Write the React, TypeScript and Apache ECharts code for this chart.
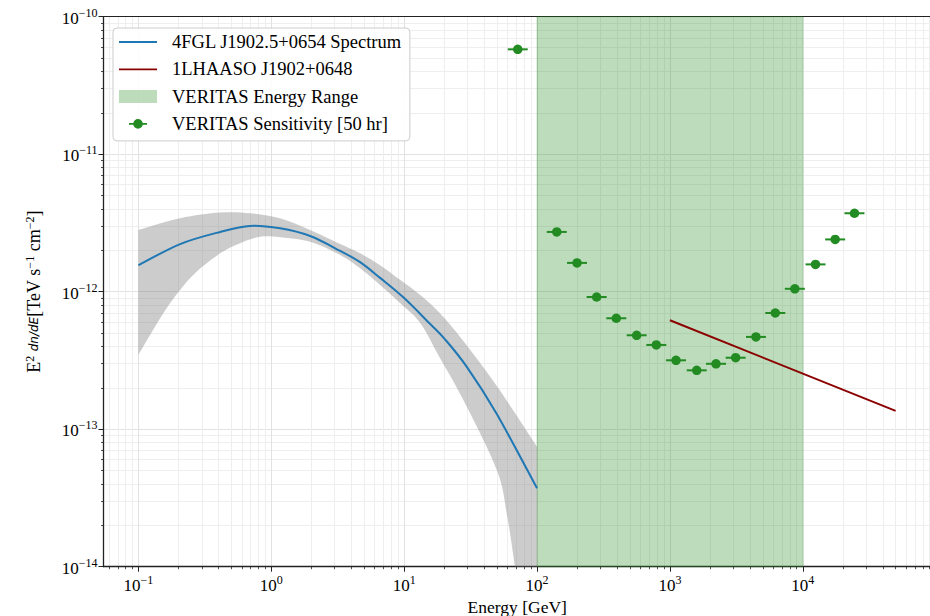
import React, { useEffect, useRef } from "react";
import * as echarts from "echarts";

const FONT = "Liberation Serif";

// Axis ranges
const X_MIN = 0.0546;
const X_MAX = 92260;
const Y_MIN = 1e-14;
const Y_MAX = 1e-10;

// Major ticks and their exponent labels
const majorX = [0.1, 1, 10, 100, 1000, 10000];
const majorXExp = ["−1", "0", "1", "2", "3", "4"];
const majorY = [1e-14, 1e-13, 1e-12, 1e-11, 1e-10];
const majorYExp = ["−14", "−13", "−12", "−11", "−10"];
const minorMult = [2, 3, 4, 5, 6, 7, 8, 9];

// Names
const S_FERMI = "4FGL J1902.5+0654 Spectrum";
const S_LHAASO = "1LHAASO J1902+0648";
const S_RANGE = "VERITAS Energy Range";
const S_SENS = "VERITAS Sensitivity [50 hr]";

// 4FGL spectrum (GeV, TeV s^-1 cm^-2)
const fermiX = [0.1, 0.206, 0.412, 0.692, 1.164, 1.96, 3.3, 4.66, 6.59, 10, 15.7, 20, 29.7, 49.8, 100];
const fermiY = [1.56e-12, 2.22e-12, 2.72e-12, 3.01e-12, 2.89e-12, 2.54e-12, 1.98e-12, 1.64e-12, 1.26e-12, 8.99e-13, 5.82e-13, 4.58e-13, 2.83e-13, 1.29e-13, 3.72e-14];

// 4FGL uncertainty band
const bandUpperX = [0.1, 0.206, 0.412, 0.692, 1.164, 1.96, 3.3, 4.66, 6.59, 9.31, 13.2, 18.6, 27.9, 49.8, 100];
const bandUpperY = [2.81e-12, 3.42e-12, 3.76e-12, 3.72e-12, 3.42e-12, 2.81e-12, 2.22e-12, 1.9e-12, 1.56e-12, 1.22e-12, 9.46e-13, 6.97e-13, 4.38e-13, 2.06e-13, 7.46e-14];
const bandLowerX = [0.1, 0.154, 0.206, 0.275, 0.412, 0.582, 0.824, 1.164, 1.96, 3.3, 4.66, 6.59, 9.31, 13.2, 18.6, 27.9, 49.8, 59.4, 68.3];
const bandLowerY = [3.47e-13, 6.97e-13, 1.03e-12, 1.4e-12, 1.9e-12, 2.25e-12, 2.51e-12, 2.49e-12, 2.31e-12, 1.85e-12, 1.48e-12, 1.12e-12, 8.28e-13, 5.93e-13, 3.3e-13, 1.63e-13, 5.05e-14, 2.38e-14, 1e-14];

// 1LHAASO power law
const lhaasoX = [1000, 50000];
const lhaasoY = [6.2e-13, 1.36e-13];

// VERITAS energy range
const rangeX = [100, 10000];

// VERITAS sensitivity points with energy bin edges
const sensX = [71.6, 140.8, 200, 281, 395, 562, 790, 1112, 1592, 2223, 3126, 4443, 6212, 8716, 12470, 17530, 24490];
const sensY = [5.79e-11, 2.72e-12, 1.62e-12, 9.15e-13, 6.41e-13, 4.82e-13, 4.1e-13, 3.17e-13, 2.68e-13, 2.99e-13, 3.31e-13, 4.69e-13, 7.0e-13, 1.05e-12, 1.58e-12, 2.4e-12, 3.72e-12];
const sensLo = [60.2, 118.4, 168.2, 236.3, 332.2, 472.7, 664.4, 935.2, 1339, 1870, 2629, 3737, 5224, 7330, 10488, 14743, 20597];
const sensHi = [85.1, 167.4, 237.8, 334.1, 469.7, 668.3, 939.3, 1322, 1893, 2643, 3717, 5283, 7386, 10364, 14827, 20844, 29119];

function minors(lo: number, hi: number, decades: number[]) {
  const out: number[] = [];
  decades.forEach((d) => minorMult.forEach((m) => {
    const v = m * d;
    if (v > lo && v < hi) out.push(v);
  }));
  return out;
}

const minorX = minors(X_MIN, X_MAX, [0.01, 0.1, 1, 10, 100, 1000, 10000]);
const minorY = minors(Y_MIN, Y_MAX, [1e-14, 1e-13, 1e-12, 1e-11]);

const tickRich = {
  b: { fontFamily: FONT, fontSize: 17, color: "#000", lineHeight: 20, verticalAlign: "bottom" },
  s: { fontFamily: FONT, fontSize: 12, color: "#000", lineHeight: 12, verticalAlign: "top" },
};

function fmt(values: number[], exps: string[]) {
  return (v: number) => {
    let best = -1;
    values.forEach((t, i) => {
      if (Math.abs(Math.log10(t) - Math.log10(v)) < 1e-6) best = i;
    });
    return best < 0 ? "" : `{b|10}{s|${exps[best]}}`;
  };
}

// Catmull-Rom smoothing of screen points into cubic bezier commands
function smoothSeg(p: number[][]): string {
  let d = "";
  for (let i = 0; i < p.length - 1; i++) {
    const p0 = p[Math.max(i - 1, 0)];
    const p1 = p[i];
    const p2 = p[i + 1];
    const p3 = p[Math.min(i + 2, p.length - 1)];
    const c1x = p1[0] + (p2[0] - p0[0]) / 6;
    const c1y = p1[1] + (p2[1] - p0[1]) / 6;
    const c2x = p2[0] - (p3[0] - p1[0]) / 6;
    const c2y = p2[1] - (p3[1] - p1[1]) / 6;
    d += `C${c1x},${c1y} ${c2x},${c2y} ${p2[0]},${p2[1]}`;
  }
  return d;
}

// legend icons drawn inside a 48x13 box (icon uses the left 38px)
const LINE_ICON = "path://M0,0M48,13M0,5.6L38,5.6L38,7.4L0,7.4Z";
const RECT_ICON = "path://M0,0M48,13M0,0L38,0L38,13L0,13Z";
const SENS_ICON =
  "path://M0,0M48,13M10,5.6L14.4,5.6L14.4,7.4L10,7.4ZM23.6,5.6L28,5.6L28,7.4L23.6,7.4ZM14.2,6.5A4.8,4.8,0,1,1,23.8,6.5A4.8,4.8,0,1,1,14.2,6.5Z";

const spine = { color: "#222", width: 1.3 };

function buildOption() {
  return {
    animation: false,
    backgroundColor: "#fff",
    textStyle: { fontFamily: FONT },
    grid: { left: 103.5, top: 16.7, right: -1, bottom: 49.3, containLabel: false, outerBoundsMode: "none" },
    legend: {
      orient: "vertical",
      left: 113,
      top: 28,
      data: [
        { name: S_FERMI, icon: LINE_ICON, itemStyle: { color: "#1f77b4", borderWidth: 0 } },
        { name: S_LHAASO, icon: LINE_ICON, itemStyle: { color: "#8b0000", borderWidth: 0 } },
        { name: S_RANGE, icon: RECT_ICON, itemStyle: { color: "rgba(34,139,34,0.3)", borderWidth: 0 } },
        { name: S_SENS, icon: SENS_ICON, itemStyle: { color: "#228B22", borderWidth: 0 } },
      ],
      itemWidth: 48,
      itemHeight: 13,
      itemGap: 7.3,
      padding: [4, 8, 7, 6],
      backgroundColor: "rgba(255,255,255,0.9)",
      borderColor: "#cccccc",
      borderWidth: 1,
      borderRadius: 4,
      textStyle: { fontFamily: FONT, fontSize: 18.5, color: "#000", lineHeight: 20 },
    },
    xAxis: [
      {
        type: "log",
        logBase: 10,
        min: X_MIN,
        max: X_MAX,
        position: "bottom",
        axisLine: { show: true, onZero: false, lineStyle: spine },
        axisTick: { show: true, inside: false, length: 5, customValues: majorX, lineStyle: { color: "#222", width: 1 } },
        axisLabel: { show: true, customValues: majorX, margin: 7, formatter: fmt(majorX, majorXExp), rich: tickRich },
        splitLine: { show: true, lineStyle: { color: "#e2e2e2", width: 1 } },
        name: "Energy [GeV]",
        nameLocation: "middle",
        nameGap: 32,
        nameMoveOverlap: false,
        nameTextStyle: { fontFamily: FONT, fontSize: 17.5, color: "#000", lineHeight: 16 },
      },
      {
        type: "log",
        logBase: 10,
        min: X_MIN,
        max: X_MAX,
        position: "bottom",
        axisLine: { show: false },
        axisTick: { show: true, inside: false, length: 2.5, customValues: minorX, lineStyle: { color: "#222", width: 0.8 } },
        axisLabel: { show: false },
        splitLine: { show: true, lineStyle: { color: "#eeeeee", width: 1 } },
      },
      {
        type: "log",
        logBase: 10,
        min: X_MIN,
        max: X_MAX,
        position: "top",
        axisLine: { show: true, onZero: false, lineStyle: { color: "#222", width: 1 } },
        axisTick: { show: false },
        axisLabel: { show: false },
        splitLine: { show: false },
      },
    ],
    yAxis: [
      {
        type: "log",
        logBase: 10,
        min: Y_MIN,
        max: Y_MAX,
        position: "left",
        axisLine: { show: true, onZero: false, lineStyle: spine },
        axisTick: { show: true, inside: false, length: 5, customValues: majorY, lineStyle: { color: "#222", width: 1 } },
        axisLabel: { show: true, customValues: majorY, margin: 6, formatter: fmt(majorY, majorYExp), rich: tickRich },
        splitLine: { show: true, lineStyle: { color: "#e2e2e2", width: 1 } },
        name: "E{sup|2} {it|dn/dE}[TeV s{sup|−1} cm{sup|−2}]",
        nameLocation: "middle",
        nameGap: 60,
        nameMoveOverlap: false,
        nameTextStyle: {
          fontFamily: FONT,
          fontSize: 18,
          color: "#000",
          rich: {
            sup: { fontFamily: FONT, fontSize: 12, color: "#000", verticalAlign: "top", lineHeight: 12 },
            it: { fontFamily: "DejaVu Sans", fontStyle: "italic", fontSize: 12, color: "#000", lineHeight: 20 },
          },
        },
      },
      {
        type: "log",
        logBase: 10,
        min: Y_MIN,
        max: Y_MAX,
        position: "left",
        axisLine: { show: false },
        axisTick: { show: true, inside: false, length: 2.5, customValues: minorY, lineStyle: { color: "#222", width: 0.8 } },
        axisLabel: { show: false },
        splitLine: { show: true, lineStyle: { color: "#eeeeee", width: 1 } },
      },
    ],
    series: [
      {
        type: "custom",
        name: "4FGL band",
        xAxisIndex: 0,
        yAxisIndex: 0,
        silent: true,
        clip: true,
        data: [[bandUpperX[0], bandUpperY[0]]],
        renderItem: (_p: any, api: any) => {
          const up = bandUpperX.map((x, i) => api.coord([x, bandUpperY[i]]));
          const lo = bandLowerX.map((x, i) => api.coord([x, bandLowerY[i]]));
          const end = up[up.length - 1];
          const loEnd = lo[lo.length - 1];
          const loRev = lo.slice().reverse();
          let d = `M${up[0][0]},${up[0][1]}` + smoothSeg(up);
          d += `L${end[0]},${loEnd[1]}L${loEnd[0]},${loEnd[1]}`;
          d += smoothSeg(loRev) + "Z";
          return { type: "path", shape: { pathData: d }, style: { fill: "rgba(128,128,128,0.4)" } };
        },
      },
      {
        type: "line",
        name: S_RANGE,
        xAxisIndex: 0,
        yAxisIndex: 0,
        data: [],
        symbol: "none",
        itemStyle: { color: "rgba(34,139,34,0.3)" },
        lineStyle: { opacity: 0 },
        markArea: {
          silent: true,
          itemStyle: { color: "rgba(34,139,34,0.3)", borderColor: "rgba(34,139,34,0.25)", borderWidth: 1 },
          data: [[{ xAxis: rangeX[0], yAxis: Y_MIN }, { xAxis: rangeX[1], yAxis: Y_MAX }]],
        },
      },
      {
        type: "custom",
        name: S_FERMI,
        xAxisIndex: 0,
        yAxisIndex: 0,
        silent: true,
        data: [[fermiX[0], fermiY[0]]],
        renderItem: (_p: any, api: any) => {
          const pts = fermiX.map((x, i) => api.coord([x, fermiY[i]]));
          const d = `M${pts[0][0]},${pts[0][1]}` + smoothSeg(pts);
          return { type: "path", shape: { pathData: d }, style: { fill: "none", stroke: "#1f77b4", lineWidth: 2 } };
        },
      },
      {
        type: "line",
        name: S_LHAASO,
        xAxisIndex: 0,
        yAxisIndex: 0,
        data: lhaasoX.map((x, i) => [x, lhaasoY[i]]),
        symbol: "none",
        showSymbol: false,
        color: "#8b0000",
        lineStyle: { color: "#8b0000", width: 2 },
      },
      {
        type: "custom",
        name: "sens err",
        xAxisIndex: 0,
        yAxisIndex: 0,
        silent: true,
        encode: { x: 0, y: 1 },
        data: sensX.map((x, i) => [x, sensY[i], sensLo[i], sensHi[i]]),
        renderItem: (_p: any, api: any) => {
          const a = api.coord([api.value(2), api.value(1)]);
          const b = api.coord([api.value(3), api.value(1)]);
          return {
            type: "line",
            shape: { x1: a[0], y1: a[1], x2: b[0], y2: b[1] },
            style: { stroke: "#228B22", lineWidth: 2 },
          };
        },
      },
      {
        type: "scatter",
        name: S_SENS,
        xAxisIndex: 0,
        yAxisIndex: 0,
        data: sensX.map((x, i) => [x, sensY[i]]),
        symbol: "circle",
        symbolSize: 9.5,
        itemStyle: { color: "#228B22", opacity: 1 },
      },
    ],
  };
}

export default function App() {
  const ref = useRef<HTMLDivElement>(null);
  useEffect(() => {
    document.body.style.margin = "0";
    const chart = echarts.init(ref.current!, null, { renderer: "svg" });
    chart.setOption(buildOption() as any);
    return () => chart.dispose();
  }, []);
  return <div ref={ref} style={{ width: 930, height: 616 }} />;
}
